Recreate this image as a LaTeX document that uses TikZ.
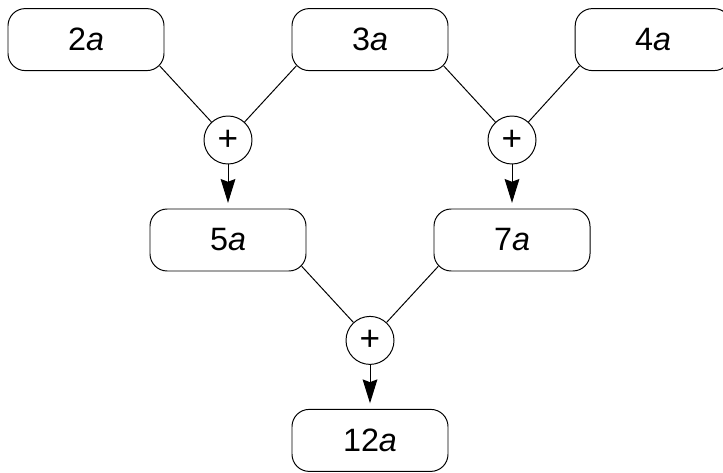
\documentclass[tikz,border=0pt]{standalone}
\usepackage{fontspec}
\setmainfont{Liberation Sans}
\usetikzlibrary{arrows.meta}

\tikzset{
	termbox/.style={draw, line width=0.7pt, rounded corners=0.43cm, minimum width=3.9cm, minimum height=1.55cm, font=\fontsize{23}{27}\selectfont},
	sumnode/.style={draw, circle, line width=0.7pt, minimum size=1.2cm, inner sep=0pt, font=\fontsize{25}{28}\selectfont},
	link/.style={line width=0.7pt, shorten >=-5pt},
	flow/.style={line width=0.7pt, -{Stealth[length=17pt, width=10.5pt, inset=2pt]}, shorten >=4pt}
}

\begin{document}
\begin{tikzpicture}
	\useasboundingbox (0,0) rectangle (18.075,11.8);
	%Top row
		\node[termbox] (t2a) at (2.15,10.81) {2\textit{a}};
		\node[termbox] (t3a) at (9.25,10.81) {3\textit{a}};
		\node[termbox] (t4a) at (16.33,10.81) {4\textit{a}};
	%Sums of the top row
		\node[sumnode] (sumL) at (5.7,8.3) {+};
		\node[sumnode] (sumR) at (12.8,8.3) {+};
		\draw[link] (sumL) -- (t2a.south east);
		\draw[link] (sumL) -- (t3a.south west);
		\draw[link] (sumR) -- (t3a.south east);
		\draw[link] (sumR) -- (t4a.south west);
	%Middle row
		\node[termbox] (t5a) at (5.7,5.8) {5\textit{a}};
		\node[termbox] (t7a) at (12.8,5.8) {7\textit{a}};
		\draw[flow] (sumL) -- (t5a);
		\draw[flow] (sumR) -- (t7a);
	%Final sum
		\node[sumnode] (sumB) at (9.25,3.29) {+};
		\draw[link] (sumB) -- (t5a.south east);
		\draw[link] (sumB) -- (t7a.south west);
	%Result
		\node[termbox] (t12a) at (9.25,0.79) {12\textit{a}};
		\draw[flow] (sumB) -- (t12a);
\end{tikzpicture}
\end{document}
